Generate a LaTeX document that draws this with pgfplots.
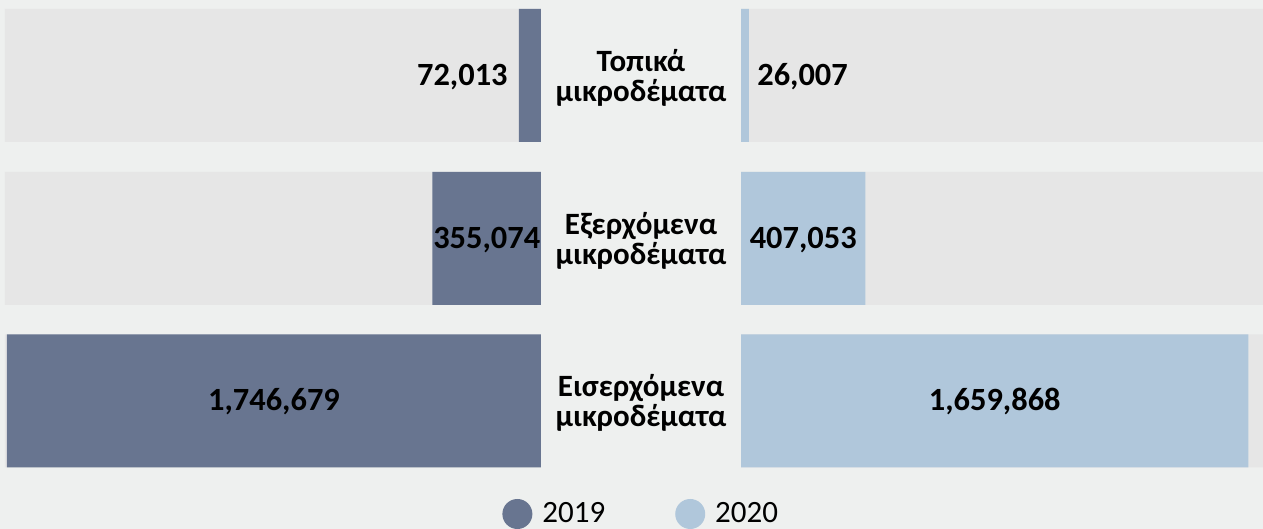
\documentclass[border=0pt]{standalone}
\usepackage{pgfplots}
\pgfplotsset{compat=1.18}
\usepackage{fontspec}
\setmainfont{Carlito}
\definecolor{bgc}{HTML}{EEF0EF}
\definecolor{panel}{HTML}{E6E6E6}
\definecolor{c19}{HTML}{687590}
\definecolor{c20}{HTML}{B0C7DB}
\newcommand{\lblfont}{\fontsize{15.5}{15}\selectfont\bfseries}
\newcommand{\numfont}{\fontsize{16.2}{18}\selectfont\bfseries}
\begin{document}
\begin{tikzpicture}
\fill[bgc] (0pt,0pt) rectangle (631.5pt,264.5pt);
\begin{axis}[at={(2.5pt,0pt)}, anchor=south west, scale only axis,
  width=268pt, height=264.5pt,
  xmin=0, xmax=1753221, ymin=0, ymax=529,
  x dir=reverse,
  axis lines=none, xbar, bar width=66.5pt, bar shift=0pt, clip=false,
  nodes={inner sep=0pt}]
\addplot[fill=panel, draw=none, forget plot] coordinates {(1753221,453.5) (1753221,290.5) (1753221,128)};
\addplot[fill=c19, draw=none] coordinates {(72013,453.5) (355074,290.5) (1746679,128)};
\node[font=\numfont, anchor=base east, xshift=-5.5pt, yshift=-5pt] at (axis cs:72013,453.5) {72,013};
\node[font=\numfont, anchor=base, yshift=-5pt] at (axis cs:177537,290.5) {355,074};
\node[font=\numfont, anchor=base, yshift=-5pt] at (axis cs:873340,128) {1,746,679};
\node[font=\lblfont, align=center, yshift=-1pt] at (axis cs:-327093,453.5) {Τοπικά\\μικροδέματα};
\node[font=\lblfont, align=center, yshift=-1pt] at (axis cs:-327093,290.5) {Εξερχόμενα\\μικροδέματα};
\node[font=\lblfont, align=center, yshift=-1pt] at (axis cs:-327093,128) {Εισερχόμενα\\μικροδέματα};
\end{axis}
\begin{axis}[at={(370.5pt,0pt)}, anchor=south west, scale only axis,
  width=261pt, height=264.5pt,
  xmin=0, xmax=1707428, ymin=0, ymax=529,
  axis lines=none, xbar, bar width=66.5pt, bar shift=0pt, clip=false,
  legend entries={2019,2020}, legend columns=2,
  legend image code/.code={\fill[#1] (7.5pt,0pt) circle (7.5pt);},
  legend style={at={(axis description cs:-0.4579,0.02836)}, anchor=west,
    draw=none, fill=none, inner sep=0pt,
    font=\fontsize{15.5}{18}\selectfont,
    nodes={inner sep=0pt},
    /tikz/every odd column/.append style={column sep=5pt},
    /tikz/every even column/.append style={column sep=35pt}},
  nodes={inner sep=0pt}]
\addplot[fill=panel, draw=none, forget plot] coordinates {(1707428,453.5) (1707428,290.5) (1707428,128)};
\addlegendimage{fill=c19, draw=none}
\addplot[fill=c20, draw=none] coordinates {(26007,453.5) (407053,290.5) (1659868,128)};
\node[font=\numfont, anchor=base west, xshift=4pt, yshift=-5pt] at (axis cs:26007,453.5) {26,007};
\node[font=\numfont, anchor=base, yshift=-5pt] at (axis cs:203527,290.5) {407,053};
\node[font=\numfont, anchor=base, yshift=-5pt] at (axis cs:829934,128) {1,659,868};
\end{axis}
\pgfresetboundingbox
\path[use as bounding box] (0pt,0pt) rectangle (631.5pt,264.5pt);
\end{tikzpicture}
\end{document}
